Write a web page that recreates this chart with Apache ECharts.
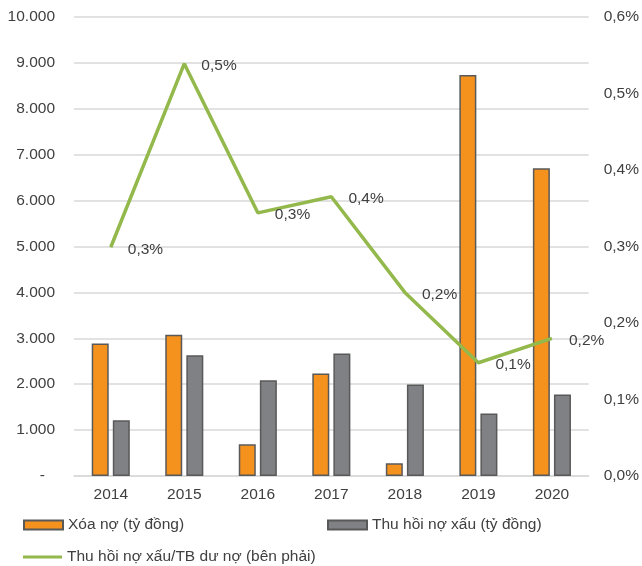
<!DOCTYPE html>
<html>
<head>
<meta charset="utf-8">
<script src="https://cdn.jsdelivr.net/npm/echarts@6/dist/echarts.min.js"></script>
<style>
  html, body { margin: 0; padding: 0; background: #ffffff; }
  #chart { width: 642px; height: 566px; }
</style>
</head>
<body>
<div id="chart"></div>
<script>
// Years on the category axis
const years = ['2014', '2015', '2016', '2017', '2018', '2019', '2020'];
// Debt written off (billion VND)
const xoaNo = [2885, 3080, 689, 2232, 276, 8739, 6703];
// Bad debt recovered (billion VND)
const thuHoi = [1217, 2630, 2087, 2667, 1993, 1362, 1775];
// Recovered bad debt / average outstanding loans (%), right axis
const tyLe = [0.299, 0.539, 0.344, 0.365, 0.240, 0.148, 0.180];

const seriesNames = ['Xóa nợ (tỷ đồng)', 'Thu hồi nợ xấu (tỷ đồng)', 'Thu hồi nợ xấu/TB dư nợ (bên phải)'];

const FONT = "'Liberation Sans', Arial, sans-serif";
const FS = 15.5;
const TEXT = '#404040';
const GRID = '#D9D9D9';
const GREEN = '#93B84B';

const fmtThousands = v => v === 0 ? '{d|-}' : String(v).replace(/\B(?=(\d{3})+(?!\d))/g, '.');
const fmtPct = v => v.toFixed(1).replace('.', ',') + '%';

const chart = echarts.init(document.getElementById('chart'), null, { renderer: 'canvas' });

const legendBase = {
  orient: 'horizontal',
  padding: 0,
  itemWidth: 39,
  itemHeight: 9,
  itemGap: 5,
  textStyle: { fontFamily: FONT, fontSize: FS, color: TEXT },
  selectedMode: false
};

chart.setOption({
  animation: false,
  backgroundColor: '#ffffff',
  textStyle: { fontFamily: FONT },
  grid: { left: 74, right: 52, top: 17, bottom: 90, containLabel: false },
  legend: [
    Object.assign({}, legendBase, { left: 23, top: 517, data: [{ name: seriesNames[0], icon: 'rect' }] }),
    Object.assign({}, legendBase, { left: 327, top: 517, data: [{ name: seriesNames[1], icon: 'rect' }] }),
    Object.assign({}, legendBase, {
      left: 23, top: 549, itemHeight: 3,
      data: [{ name: seriesNames[2], icon: 'rect', itemStyle: { color: GREEN } }]
    })
  ],
  xAxis: {
    type: 'category',
    data: years,
    axisLine: { show: true, lineStyle: { color: GRID, width: 1.5 } },
    axisTick: { show: false },
    axisLabel: { color: TEXT, fontSize: FS, fontFamily: FONT, margin: 11 }
  },
  yAxis: [
    {
      type: 'value',
      min: 0, max: 10000, interval: 1000,
      axisLine: { show: false },
      axisTick: { show: false },
      splitLine: { lineStyle: { color: GRID, width: 1.5 } },
      axisLabel: {
        color: TEXT, fontSize: FS, fontFamily: FONT, margin: 19,
        formatter: fmtThousands,
        rich: { d: { color: TEXT, fontSize: FS, fontFamily: FONT, padding: [0, 10, 0, 0] } }
      }
    },
    {
      type: 'value',
      min: 0, max: 0.6, interval: 0.1,
      position: 'right',
      axisLine: { show: false },
      axisTick: { show: false },
      splitLine: { show: false },
      axisLabel: { color: TEXT, fontSize: FS, fontFamily: FONT, margin: 15, formatter: fmtPct }
    }
  ],
  series: [
    {
      name: seriesNames[0],
      type: 'bar',
      data: xoaNo,
      barWidth: 17,
      barGap: '24%',
      itemStyle: { color: '#F5921E', borderColor: '#595959', borderWidth: 1.5 }
    },
    {
      name: seriesNames[1],
      type: 'bar',
      data: thuHoi,
      barWidth: 17,
      itemStyle: { color: '#808184', borderColor: '#595959', borderWidth: 1.5 }
    },
    {
      name: seriesNames[2],
      type: 'line',
      yAxisIndex: 1,
      data: tyLe,
      symbol: 'circle',
      symbolSize: 0.1,
      showSymbol: true,
      z: 5,
      lineStyle: { color: GREEN, width: 3.5 },
      itemStyle: { color: GREEN },
      label: {
        show: true,
        position: 'right',
        distance: 17,
        offset: [0, 2],
        color: TEXT,
        fontSize: FS,
        fontFamily: FONT,
        formatter: p => fmtPct(p.value)
      }
    }
  ]
});
</script>
</body>
</html>
